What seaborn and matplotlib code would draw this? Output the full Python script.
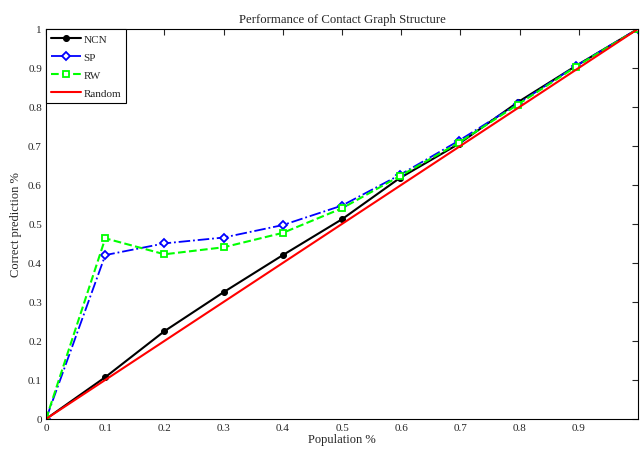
import numpy as np
import pandas as pd
import matplotlib
matplotlib.use("Agg")
import matplotlib.pyplot as plt
import seaborn as sns

sns.set_style("white")
plt.rcParams['font.family'] = ['Liberation Serif', 'DejaVu Serif']
plt.rcParams['mathtext.fontset'] = 'stix'

population = [0.0, 0.1, 0.2, 0.3, 0.4, 0.5, 0.597, 0.697, 0.797, 0.895, 1.0]
ncn = [0.0, 0.107, 0.225, 0.325, 0.42, 0.512, 0.617, 0.705, 0.812, 0.905, 1.0]
sp = [0.0, 0.42, 0.45, 0.465, 0.497, 0.547, 0.625, 0.713, 0.808, 0.905, 1.0]
rw = [0.0, 0.463, 0.422, 0.44, 0.477, 0.54, 0.622, 0.708, 0.806, 0.903, 1.0]
random_x = [0.0, 1.0]
random_y = [0.0, 1.0]

fig = plt.figure(figsize=(6.4, 4.52), dpi=100)
ax = fig.add_axes([0.072, 0.071, 0.925, 0.863])

sns.lineplot(x=population, y=ncn, ax=ax, color='black', marker='o', markersize=4.3,
             linewidth=1.5, label='NCN', markeredgecolor='black')
sns.lineplot(x=population, y=sp, ax=ax, color='blue', marker='D', markersize=4.3,
             linewidth=1.3, linestyle='-.', label='SP', markerfacecolor='white',
             markeredgecolor='blue', markeredgewidth=1.3)
sns.lineplot(x=population, y=rw, ax=ax, color='#00ff00', marker='s', markersize=4.3,
             linewidth=1.5, linestyle='--', label='RW', markerfacecolor='white',
             markeredgecolor='#00ff00', markeredgewidth=1.3)
sns.lineplot(x=random_x, y=random_y, ax=ax, color='red', linewidth=1.5, label='Random')

ax.set_xlim(0, 1)
ax.set_ylim(0, 1)
ax.set_xticks(np.arange(0, 1.01, 0.1))
ax.set_xticklabels(['0', '0.1', '0.2', '0.3', '0.4', '0.5', '0.6', '0.7', '0.8', '0.9', ''])
ax.set_yticks(np.arange(0, 1.01, 0.1))
ax.set_yticklabels(['0', '0.1', '0.2', '0.3', '0.4', '0.5', '0.6', '0.7', '0.8', '0.9', '1'])
ax.tick_params(direction='in', top=True, right=True, length=4, labelsize=8, pad=3, width=0.8)
for s in ax.spines.values():
    s.set_color('black')
    s.set_linewidth(0.8)

ax.set_xlabel('Population %', fontsize=9, labelpad=1)
ax.set_ylabel('Correct prediction %', fontsize=9, labelpad=4)
ax.set_title('Performance of Contact Graph Structure', fontsize=9.2, pad=5)

leg = ax.legend(loc='upper left', fontsize=8, frameon=True, fancybox=False,
                edgecolor='black', borderaxespad=0.0, handlelength=2.7,
                labelspacing=0.75, borderpad=0.45, handletextpad=0.2)
leg.get_frame().set_linewidth(0.8)
leg.get_frame().set_alpha(1)

fig.savefig('out.png', dpi=100)
